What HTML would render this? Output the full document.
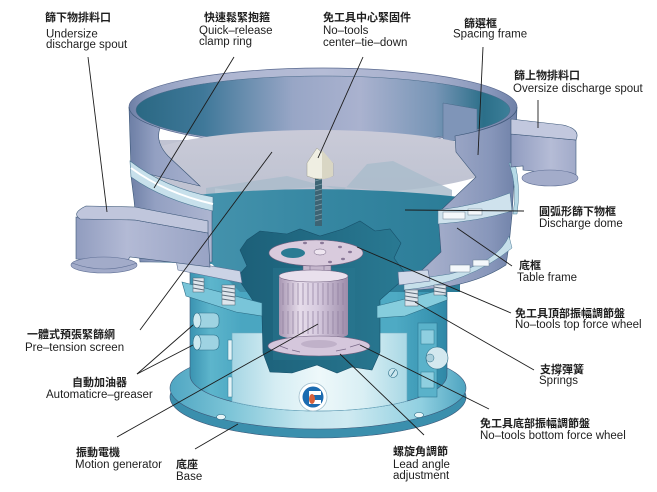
<!DOCTYPE html>
<html><head><meta charset="utf-8"><style>
html,body{margin:0;padding:0;background:#fff;}
svg{display:block}
.cj{font-family:"Liberation Sans","Noto Sans CJK TC","Noto Sans CJK SC",sans-serif;font-size:11px;font-weight:bold;fill:#1e1e1e}
.en{font-family:"Liberation Sans",sans-serif;font-size:11.5px;fill:#1e1e1e}
.ld{stroke:#1c1c1c;stroke-width:0.9;fill:none}
.ol{stroke:#3b5677;stroke-width:0.6}
</style></head><body>
<svg width="657" height="492" viewBox="0 0 657 492" xmlns="http://www.w3.org/2000/svg">
<defs>
<linearGradient id="gF" gradientUnits="userSpaceOnUse" x1="128" y1="0" x2="518" y2="0">
 <stop offset="0" stop-color="#6b7da4"/><stop offset="0.07" stop-color="#93a0c2"/>
 <stop offset="0.22" stop-color="#aeb6d1"/><stop offset="0.5" stop-color="#b5bcd6"/>
 <stop offset="0.78" stop-color="#a5aecb"/><stop offset="0.93" stop-color="#8796ba"/>
 <stop offset="1" stop-color="#6e80a7"/>
</linearGradient>
<linearGradient id="gI" gradientUnits="userSpaceOnUse" x1="136" y1="0" x2="510" y2="0">
 <stop offset="0" stop-color="#2a6883"/><stop offset="0.18" stop-color="#3f7899"/>
 <stop offset="0.42" stop-color="#98a6c6"/><stop offset="0.6" stop-color="#aab2cf"/>
 <stop offset="0.8" stop-color="#7795b6"/><stop offset="0.93" stop-color="#2b6f89"/>
 <stop offset="1" stop-color="#3d7f99"/>
</linearGradient>
<linearGradient id="gS" gradientUnits="userSpaceOnUse" x1="0" y1="128" x2="0" y2="195">
 <stop offset="0" stop-color="#cacbd8"/><stop offset="1" stop-color="#bec2d1"/>
</linearGradient>
<linearGradient id="gD" gradientUnits="userSpaceOnUse" x1="200" y1="0" x2="460" y2="0">
 <stop offset="0" stop-color="#4593ad"/><stop offset="0.5" stop-color="#3586a1"/><stop offset="1" stop-color="#2b7c97"/>
</linearGradient>
<linearGradient id="gC" gradientUnits="userSpaceOnUse" x1="237" y1="0" x2="407" y2="0">
 <stop offset="0" stop-color="#1c5f78"/><stop offset="0.5" stop-color="#226c85"/><stop offset="1" stop-color="#2a7a93"/>
</linearGradient>
<linearGradient id="gH" gradientUnits="userSpaceOnUse" x1="190" y1="0" x2="447" y2="0">
 <stop offset="0" stop-color="#3a93b1"/><stop offset="0.08" stop-color="#5db5cc"/>
 <stop offset="0.2" stop-color="#4aa6c1"/><stop offset="0.8" stop-color="#4eaac4"/>
 <stop offset="0.93" stop-color="#3a96b3"/><stop offset="1" stop-color="#2f87a6"/>
</linearGradient>
<linearGradient id="gP" gradientUnits="userSpaceOnUse" x1="232" y1="0" x2="407" y2="0">
 <stop offset="0" stop-color="#a6d6e4"/><stop offset="0.25" stop-color="#d5edf3"/>
 <stop offset="0.5" stop-color="#eef8fa"/><stop offset="0.75" stop-color="#d9eff4"/>
 <stop offset="1" stop-color="#a9d8e5"/>
</linearGradient>
<linearGradient id="gFl" gradientUnits="userSpaceOnUse" x1="170" y1="0" x2="466" y2="0">
 <stop offset="0" stop-color="#4fa6c2"/><stop offset="0.2" stop-color="#7cc4d7"/>
 <stop offset="0.45" stop-color="#c3e5ee"/><stop offset="0.6" stop-color="#cfeaf1"/>
 <stop offset="0.85" stop-color="#8fcfe0"/><stop offset="1" stop-color="#4ea4c0"/>
</linearGradient>
<linearGradient id="gM" gradientUnits="userSpaceOnUse" x1="279" y1="0" x2="348" y2="0">
 <stop offset="0" stop-color="#a897b3"/><stop offset="0.3" stop-color="#e6dcea"/>
 <stop offset="0.55" stop-color="#d8cce0"/><stop offset="1" stop-color="#9d8caa"/>
</linearGradient>
<linearGradient id="gSL" gradientUnits="userSpaceOnUse" x1="72" y1="0" x2="210" y2="0">
 <stop offset="0" stop-color="#8e9abd"/><stop offset="0.4" stop-color="#b3bad5"/><stop offset="1" stop-color="#98a3c4"/>
</linearGradient>
<linearGradient id="gSR" gradientUnits="userSpaceOnUse" x1="510" y1="0" x2="578" y2="0">
 <stop offset="0" stop-color="#8f9bbf"/><stop offset="0.6" stop-color="#b5bcd6"/><stop offset="1" stop-color="#a0a9c8"/>
</linearGradient>
</defs>

<!-- base flange -->
<ellipse cx="318" cy="397" rx="148" ry="41" fill="#3b8fad" class="ol"/>
<ellipse cx="318" cy="388" rx="148" ry="41" fill="url(#gFl)" class="ol"/>
<ellipse cx="221" cy="417" rx="4.5" ry="2.6" fill="#e8f5f8" stroke="#2d6f88" stroke-width=".6"/>
<ellipse cx="419" cy="415" rx="4.5" ry="2.6" fill="#e8f5f8" stroke="#2d6f88" stroke-width=".6"/>

<!-- housing -->
<path d="M190,270 L190,375 A128.5,36 0 0 0 447,375 L447,270 Z" fill="url(#gH)" class="ol"/>
<path d="M232,333 L232,401.6 A128.5,36 0 0 0 407,401 L407,333 Z" fill="url(#gP)" stroke="#6aaac0" stroke-width=".6"/>
<rect x="228" y="340" width="4" height="20" fill="#e3f3f7" stroke="#2d7893" stroke-width=".5"/>
<rect x="228" y="377" width="4" height="20" fill="#e3f3f7" stroke="#2d7893" stroke-width=".5"/>
<rect x="418" y="323" width="19" height="74" fill="#5ab2ca" stroke="#2d7893" stroke-width=".6"/>
<rect x="421" y="330" width="13" height="14" fill="#8fcfe0" stroke="#2d7893" stroke-width=".5"/>
<rect x="421" y="372" width="13" height="16" fill="#8fcfe0" stroke="#2d7893" stroke-width=".5"/>

<!-- frame rim + inner -->
<ellipse cx="323" cy="107" rx="194" ry="39" fill="url(#gF)" stroke="#59698f" stroke-width=".7"/>
<ellipse cx="323" cy="110" rx="187" ry="34" fill="url(#gI)" stroke="#4a6a8a" stroke-width=".5"/>
<polygon points="443,103 477,109 477,142 443,140" fill="#7f95b8" stroke="#4a6a8a" stroke-width=".5"/>

<!-- screen -->
<rect x="150" y="140" width="65" height="62" fill="#c0c3d2"/>
<ellipse cx="318" cy="162" rx="180" ry="32" fill="url(#gS)"/>
<polygon points="206,188 287,176 343,191 367,164 393,161 452,190 452,197 330,186 206,195" fill="#aabccb" opacity=".85"/>

<!-- dome -->
<path d="M150,202 L206,194 Q330,183 460,197 L460,292 L240,292 L212,264 L150,262 Z" fill="url(#gD)"/>

<!-- cone bolt rod -->
<rect x="315" y="176" width="7" height="50" fill="#3d6474"/>
<g stroke="#7fa0ad" stroke-width=".7">
<line x1="315" y1="181" x2="322" y2="179"/><line x1="315" y1="186" x2="322" y2="184"/><line x1="315" y1="191" x2="322" y2="189"/><line x1="315" y1="196" x2="322" y2="194"/><line x1="315" y1="201" x2="322" y2="199"/><line x1="315" y1="206" x2="322" y2="204"/><line x1="315" y1="211" x2="322" y2="209"/><line x1="315" y1="216" x2="322" y2="214"/><line x1="315" y1="221" x2="322" y2="219"/>
</g>
<path d="M317,148 L307,163 L307,176 Q320,182 333,176 L333,163 Z" fill="#efeee2" stroke="#9b9a8c" stroke-width=".5"/>
<path d="M322,150 L333,163 L333,176 Q327,179 322,179 Z" fill="#d9d6c4"/>

<!-- chamber -->
<polygon points="240,250 247,240 260,231 287,234 300,229 320,236 343,229 360,221 375,231 390,229 401,243 394,258 407,276 380,300 380,352 372,370 352,367 337,373 317,365 292,373 270,372 263,353 262,315 250,296 237,277 247,266" fill="url(#gC)" stroke="#17506a" stroke-width=".6"/>
<rect x="273" y="268" width="82" height="92" fill="#2a7891" opacity=".45"/>

<!-- left walls -->
<path d="M129,107 A194,39 0 0 0 160,128 Q155,142 168,156 L200,186 L131,170 Z" fill="url(#gF)" class="ol"/>
<path d="M131,176 Q163,198 212,210 L212,262 L140,262 L134,200 Z" fill="url(#gF)" class="ol"/>
<path d="M130,161 Q165,188 213,197 L213,211 Q163,200 131,177 Z" fill="#c7e0eb" stroke="#4d7a96" stroke-width=".6"/>
<path d="M131,168 Q165,193 213,204" fill="none" stroke="#ffffff" stroke-width="2"/>

<!-- right wall -->
<path d="M455,136 A194,39 0 0 0 517,107 L515,165 L512,215 L509,245 L506,265 Q480,282 440,288 L404,291 L420,272 L441,252 L438,213 L476,177 L456,152 Z" fill="url(#gF)" class="ol"/>
<path d="M509,163 Q518,188 513,214 L517,214 Q521,188 515,163 Z" fill="#b5d9e6" stroke="#4d7a96" stroke-width=".5"/>
<path d="M438,210 Q480,205 510,193 L512,211 Q480,221 438,224 Z" fill="#cfe2ed" stroke="#4d7a96" stroke-width=".5"/>
<rect x="443" y="212" width="22" height="7" fill="#f4f8fb" stroke="#6b8094" stroke-width=".5"/>
<rect x="468" y="209" width="14" height="6" fill="#f4f8fb" stroke="#6b8094" stroke-width=".5"/>
<path d="M509,236 Q498,262 450,274 L404,281 L404,290 Q468,284 512,248 Z" fill="#c6dfea" stroke="#4d7a96" stroke-width=".5"/>
<rect x="450" y="265" width="20" height="7" fill="#f4f8fb" stroke="#6b8094" stroke-width=".5"/>
<rect x="473" y="260" width="16" height="6" fill="#f4f8fb" stroke="#6b8094" stroke-width=".5"/>

<!-- housing brackets -->
<polygon points="182,282 262,303 262,316 236,312 186,296" fill="#79c5d9" stroke="#2d6f88" stroke-width=".6"/>
<polygon points="377,306 437,291 447,297 447,300 405,316 377,318" fill="#86cddd" stroke="#2d6f88" stroke-width=".6"/>

<!-- springs -->
<g stroke="#4d6070" stroke-width=".5">
<rect x="193" y="278" width="11" height="14" fill="#dde5ec"/>
<rect x="222" y="285" width="13" height="20" fill="#dde5ec"/>
<rect x="405" y="290" width="13" height="16" fill="#dde5ec"/>
<rect x="434" y="285" width="12" height="10" fill="#dde5ec"/>
</g>
<g stroke="#5d6d7c" stroke-width=".9">
<line x1="193" y1="280" x2="204" y2="282"/><line x1="193" y1="284" x2="204" y2="286"/><line x1="193" y1="288" x2="204" y2="290"/>
<line x1="222" y1="287" x2="235" y2="289"/><line x1="222" y1="291" x2="235" y2="293"/><line x1="222" y1="295" x2="235" y2="297"/><line x1="222" y1="299" x2="235" y2="301"/>
<line x1="405" y1="292" x2="418" y2="294"/><line x1="405" y1="296" x2="418" y2="298"/><line x1="405" y1="300" x2="418" y2="302"/>
<line x1="434" y1="287" x2="446" y2="289"/><line x1="434" y1="291" x2="446" y2="293"/>
</g>
<polygon points="176,260 240,271 242,283 178,270" fill="#cbd3e5" stroke="#5d6f93" stroke-width=".6"/>
<polygon points="398,272 428,270 430,281 399,285" fill="#cfd8e8" stroke="#5d6f93" stroke-width=".6"/>

<!-- motor -->
<rect x="303" y="260" width="28" height="17" fill="#c5b6cc" stroke="#6f5f7e" stroke-width=".5"/>
<line x1="310" y1="260" x2="310" y2="277" stroke="#8d7d9c" stroke-width=".8"/>
<line x1="324" y1="260" x2="324" y2="277" stroke="#8d7d9c" stroke-width=".8"/>
<ellipse cx="316" cy="253" rx="47" ry="13" fill="#d9cbdd" stroke="#6f5f7e" stroke-width=".6"/>
<ellipse cx="293" cy="253" rx="12" ry="5" fill="#2a7b93"/>
<ellipse cx="320" cy="252" rx="6" ry="3" fill="#eee5f0" stroke="#6f5f7e" stroke-width=".5"/>
<g fill="#8a7898"><ellipse cx="340" cy="247" rx="2" ry="1.2"/><ellipse cx="350" cy="252" rx="2" ry="1.2"/><ellipse cx="343" cy="259" rx="2" ry="1.2"/><ellipse cx="330" cy="262" rx="2" ry="1.2"/><ellipse cx="305" cy="243" rx="2" ry="1.2"/><ellipse cx="322" cy="243" rx="2" ry="1.2"/></g>
<rect x="279" y="276" width="69" height="58" fill="url(#gM)"/>
<ellipse cx="313.5" cy="334" rx="34.5" ry="6" fill="url(#gM)"/>
<g stroke="#8d7d9c" stroke-width=".7">
<line x1="283" y1="283" x2="283" y2="305"/><line x1="288" y1="283" x2="288" y2="305"/><line x1="293" y1="283" x2="293" y2="305"/><line x1="298" y1="283" x2="298" y2="305"/><line x1="303" y1="283" x2="303" y2="305"/><line x1="308" y1="283" x2="308" y2="305"/><line x1="313" y1="283" x2="313" y2="305"/><line x1="318" y1="283" x2="318" y2="305"/><line x1="323" y1="283" x2="323" y2="305"/><line x1="328" y1="283" x2="328" y2="305"/><line x1="333" y1="283" x2="333" y2="305"/><line x1="338" y1="283" x2="338" y2="305"/><line x1="343" y1="283" x2="343" y2="305"/>
<line x1="283" y1="311" x2="283" y2="334"/><line x1="288" y1="311" x2="288" y2="334"/><line x1="293" y1="311" x2="293" y2="334"/><line x1="298" y1="311" x2="298" y2="334"/><line x1="303" y1="311" x2="303" y2="334"/><line x1="308" y1="311" x2="308" y2="334"/><line x1="313" y1="311" x2="313" y2="334"/><line x1="318" y1="311" x2="318" y2="334"/><line x1="323" y1="311" x2="323" y2="334"/><line x1="328" y1="311" x2="328" y2="334"/><line x1="333" y1="311" x2="333" y2="334"/><line x1="338" y1="311" x2="338" y2="334"/><line x1="343" y1="311" x2="343" y2="334"/>
</g>
<ellipse cx="313.5" cy="276" rx="34.5" ry="6" fill="#e9e0ed" stroke="#6f5f7e" stroke-width=".6"/>
<rect x="303" y="336" width="34" height="10" fill="#cfc0d6"/>
<ellipse cx="319" cy="346" rx="51" ry="10" fill="#d5c7dc" stroke="#6f5f7e" stroke-width=".6"/>
<ellipse cx="319" cy="344" rx="18" ry="4" fill="#c0b1c9"/>
<g stroke="#7a6a8a" stroke-width=".8"><line x1="280" y1="346" x2="288" y2="349"/><line x1="292" y1="350" x2="300" y2="352"/><line x1="336" y1="351" x2="346" y2="349"/><line x1="350" y1="347" x2="360" y2="344"/></g>

<!-- greasers, knob, screw, logo -->
<rect x="195" y="313" width="24" height="15" rx="5" fill="#9fd3e2" stroke="#2c6e88" stroke-width=".6"/>
<ellipse cx="197" cy="320.5" rx="4" ry="7.5" fill="#cde9f0" stroke="#2c6e88" stroke-width=".6"/>
<rect x="195" y="335" width="24" height="15" rx="5" fill="#9fd3e2" stroke="#2c6e88" stroke-width=".6"/>
<ellipse cx="197" cy="342.5" rx="4" ry="7.5" fill="#cde9f0" stroke="#2c6e88" stroke-width=".6"/>
<circle cx="437" cy="358" r="11" fill="#d3e8ef" stroke="#2d6f88" stroke-width=".6"/>
<circle cx="430" cy="358" r="4" fill="#a9cfdc" stroke="#2d6f88" stroke-width=".5"/>
<circle cx="393" cy="373" r="4.5" fill="#cbe6ee" stroke="#2d6f88" stroke-width=".6"/>
<line x1="391" y1="376" x2="395" y2="370" stroke="#2d6f88" stroke-width=".8"/>
<circle cx="313" cy="397" r="14" fill="#ffffff" stroke="#9dbccb" stroke-width=".8"/>
<circle cx="313" cy="397" r="10.5" fill="#1c6bb0"/>
<path d="M309,391 L321,391 L321,395 L313,395 Q308,397 313,400 L321,400 L321,404 L309,404 Z" fill="#ffffff"/>
<ellipse cx="312" cy="399" rx="3" ry="5" fill="#d8603a"/>

<!-- left spout -->
<path d="M76,217 L135,220 L208,233 L210,267 L130,257 L128,260 L76,259 Z" fill="url(#gSL)" class="ol"/>
<path d="M86,206 L135,207 L208,221 L208,233 L135,220 L80,219 Q71,213 86,206 Z" fill="#c0c6dc" class="ol"/>
<ellipse cx="104" cy="265" rx="33" ry="8" fill="#a2abc9" stroke="#5f6f95" stroke-width=".6"/>
<path d="M72,263 Q104,275 137,263" fill="none" stroke="#5f6f95" stroke-width=".6"/>

<!-- right spout -->
<path d="M511,134 L576,140 L576,176 L523,170 L523,166 L511,167 Z" fill="url(#gSR)" class="ol"/>
<path d="M511,119 L563,125 Q581,129 576,140 L511,134 Z" fill="#c2c8de" class="ol"/>
<ellipse cx="550" cy="178" rx="28" ry="8" fill="#a3acca" stroke="#5f6f95" stroke-width=".6"/>

<!-- leader lines -->
<g class="ld">
<line x1="88" y1="57" x2="107" y2="212"/>
<line x1="234" y1="57" x2="154" y2="188"/>
<line x1="363" y1="57" x2="318" y2="158"/>
<line x1="483" y1="47" x2="478" y2="155"/>
<line x1="538" y1="100" x2="538" y2="128"/>
<line x1="405" y1="210" x2="524" y2="211"/>
<line x1="457" y1="228" x2="512" y2="266"/>
<line x1="357" y1="247" x2="511" y2="313"/>
<line x1="415" y1="302" x2="534" y2="370"/>
<line x1="360" y1="345" x2="489" y2="409"/>
<line x1="340" y1="354" x2="424" y2="435"/>
<line x1="238" y1="424" x2="195" y2="449"/>
<line x1="117" y1="437" x2="318" y2="324"/>
<line x1="137" y1="374" x2="193" y2="325"/>
<line x1="137" y1="374" x2="193" y2="345"/>
<line x1="272" y1="152" x2="140" y2="330"/>
</g>

<!-- labels -->
<text class="cj" x="45" y="21">篩下物排料口</text>
<text class="en" x="46" y="37.5">Undersize</text>
<text class="en" x="46" y="48">discharge spout</text>

<text class="cj" x="204" y="21">快速鬆緊抱箍</text>
<text class="en" x="199" y="34">Quick–release</text>
<text class="en" x="199" y="45">clamp ring</text>

<text class="cj" x="323" y="21">免工具中心緊固件</text>
<text class="en" x="323" y="34">No–tools</text>
<text class="en" x="323" y="46">center–tie–down</text>

<text class="cj" x="464" y="27">篩選框</text>
<text class="en" x="453" y="37.5">Spacing frame</text>

<text class="cj" x="514" y="79">篩上物排料口</text>
<text class="en" x="513" y="92">Oversize discharge spout</text>

<text class="cj" x="539" y="215">圓弧形篩下物框</text>
<text class="en" x="539" y="227">Discharge dome</text>

<text class="cj" x="519" y="269">底框</text>
<text class="en" x="517" y="281">Table frame</text>

<text class="cj" x="515" y="317">免工具頂部振幅調節盤</text>
<text class="en" x="515" y="328">No–tools top force wheel</text>

<text class="cj" x="540" y="373">支撐彈簧</text>
<text class="en" x="539" y="384">Springs</text>

<text class="cj" x="480" y="427">免工具底部振幅調節盤</text>
<text class="en" x="480" y="439">No–tools bottom force wheel</text>

<text class="cj" x="393" y="455">螺旋角調節</text>
<text class="en" x="393" y="468">Lead angle</text>
<text class="en" x="393" y="479">adjustment</text>

<text class="cj" x="27" y="338">一體式預張緊篩網</text>
<text class="en" x="25" y="351">Pre–tension screen</text>

<text class="cj" x="72" y="386">自動加油器</text>
<text class="en" x="46" y="398">Automaticre–greaser</text>

<text class="cj" x="76" y="456">振動電機</text>
<text class="en" x="75" y="468">Motion generator</text>

<text class="cj" x="176" y="468">底座</text>
<text class="en" x="176" y="480">Base</text>
</svg>
</body></html>
